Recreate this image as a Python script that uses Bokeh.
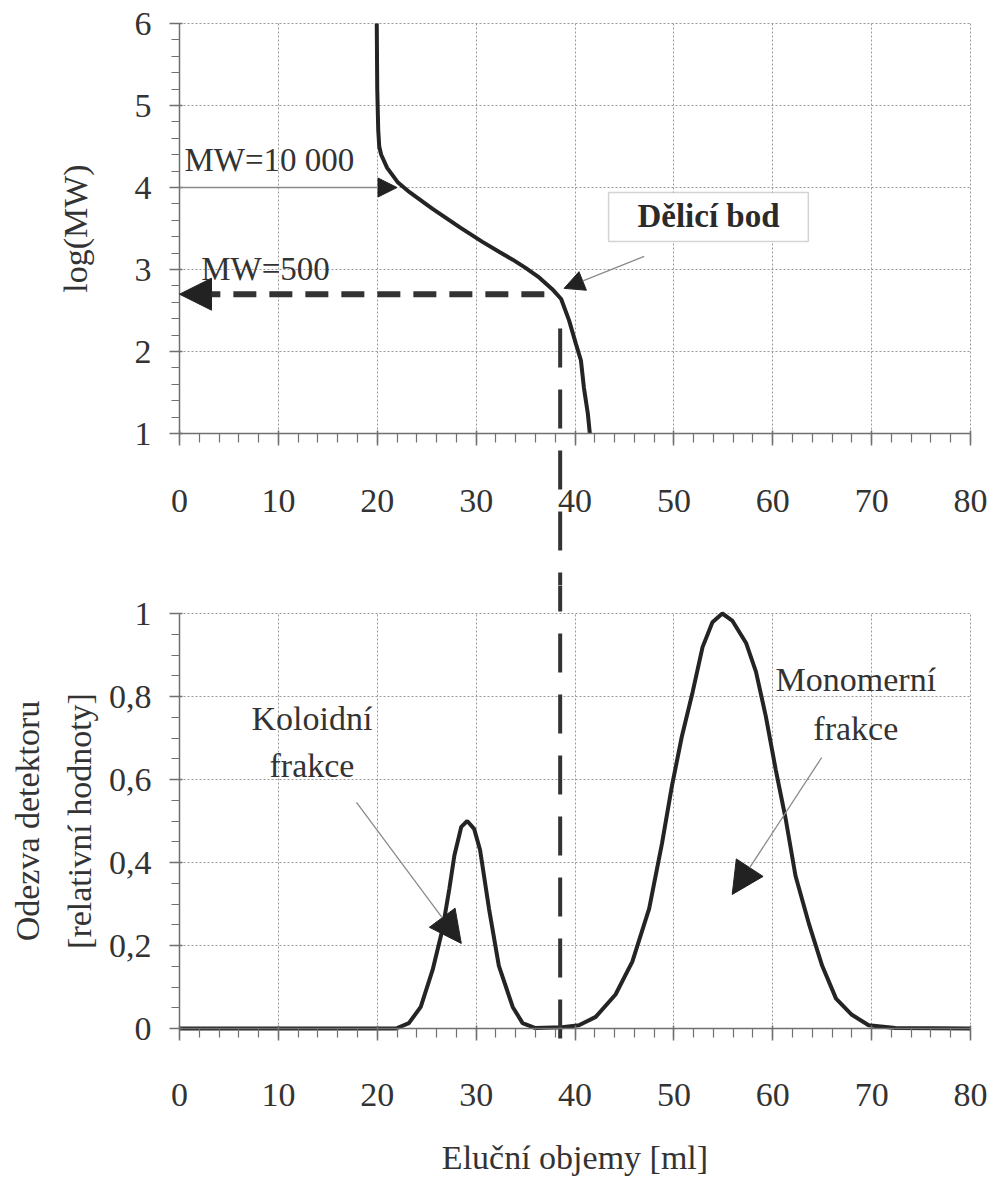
import math
from bokeh.plotting import figure
from bokeh.models import FixedTicker, Arrow, NormalHead, Label, BoxAnnotation
from bokeh.layouts import column
from bokeh.embed import file_html
from bokeh.resources import INLINE

# ---------------- data ----------------
# calibration curve: elution volume [ml] vs log(MW)
ve_cal = [19.95, 20.0, 20.1, 20.2, 20.4, 21.0, 22.1, 23.3, 25.6, 28.4, 30.6, 32.4,
          33.7, 35.0, 36.4, 37.7, 38.6, 39.4, 40.1, 40.6, 40.9, 41.3, 41.5]
logmw_cal = [6.0, 5.2, 4.7, 4.5, 4.4, 4.24, 4.06, 3.94, 3.74, 3.51, 3.34, 3.21,
             3.12, 3.02, 2.90, 2.76, 2.64, 2.38, 2.09, 1.89, 1.56, 1.24, 1.0]

# detector response (relative) vs elution volume [ml]
ve_det = [0, 21.9, 23.2, 24.4, 25.6, 26.6, 27.3, 27.8, 28.5, 29.1, 29.8, 30.4, 31.3,
          32.3, 33.7, 34.7, 36.0, 38.7, 40.4, 42.1, 44.1, 45.8, 47.5, 48.8, 49.8,
          50.8, 51.9, 52.9, 53.9, 54.9, 55.9, 57.3, 58.3, 59.3, 60.3, 61.3, 62.3,
          63.7, 65.0, 66.4, 68.0, 69.7, 72.4, 80]
resp_det = [0, 0, 0.013, 0.052, 0.141, 0.239, 0.338, 0.417, 0.486, 0.5, 0.481, 0.43,
            0.289, 0.151, 0.052, 0.013, 0.001, 0.003, 0.008, 0.028, 0.082, 0.161,
            0.289, 0.446, 0.584, 0.703, 0.811, 0.919, 0.979, 1.0, 0.983, 0.929,
            0.860, 0.752, 0.624, 0.506, 0.368, 0.249, 0.151, 0.072, 0.033, 0.008,
            0.001, 0]

x_ticks = [0, 10, 20, 30, 40, 50, 60, 70, 80]
logmw_ticks = [1, 2, 3, 4, 5, 6]
resp_ticks = [0, 0.2, 0.4, 0.6, 0.8, 1.0]
resp_tick_labels = ["0", "0,2", "0,4", "0,6", "0,8", "1"]

split_volume = 38.5          # "Dělicí bod" elution volume
mw_high = 10000
mw_low = 500
txt_mw_high = "MW=10 000"
txt_mw_low = "MW=500"
txt_split = "Dělicí bod"
txt_colloid = ["Koloidní", "frakce"]
txt_monomer = ["Monomerní", "frakce"]

FONT = "Liberation Serif"
TXT = "#333333"
CURVE = "#242424"
AXIS = "#707070"
GRID = "#999999"

# layout (pixels)
LEFT, RIGHT = 179, 20
FRAME_W = 791
WIDTH = LEFT + FRAME_W + RIGHT
px_x = FRAME_W / 80.0
X_RANGE = (-LEFT / px_x, 80 + RIGHT / px_x)
TOP_PX, Y1_PX, SPLIT_PX = 23, 433, 585      # top panel: y=6, y=1, panels' boundary
BOT0_PX, BOT_H = 1028, 150                  # bottom panel: y=0 position, space below
px_top = (Y1_PX - TOP_PX) / 5.0             # px per log unit
px_bot = BOT0_PX - 613                      # px per response unit (y=1 at 613)
top_low = 1 - (SPLIT_PX - Y1_PX) / px_top
top_high = 6 + TOP_PX / px_top
bot_high = (BOT0_PX - SPLIT_PX) / px_bot
bot_low = -BOT_H / px_bot


def style(p, yticks, yminor, xbounds, ybounds):
    p.outline_line_color = None
    p.background_fill_color = "white"
    for ax in (p.xaxis[0], p.yaxis[0]):
        ax.axis_line_color = AXIS
        ax.axis_line_width = 1.5
        ax.major_tick_line_color = AXIS
        ax.minor_tick_line_color = AXIS
        ax.major_tick_line_width = 1.5
        ax.minor_tick_line_width = 1.2
        ax.major_label_text_font = FONT
        ax.major_label_text_font_size = "34px"
        ax.major_label_text_color = TXT
        ax.axis_label_text_font = FONT
        ax.axis_label_text_font_size = "34px"
        ax.axis_label_text_font_style = "normal"
        ax.axis_label_text_color = TXT
    p.xaxis.ticker = FixedTicker(ticks=x_ticks, minor_ticks=[i * 2 for i in range(41)])
    p.yaxis.ticker = FixedTicker(ticks=yticks, minor_ticks=yminor)
    p.xaxis.bounds = xbounds
    p.yaxis.bounds = ybounds
    p.xaxis.fixed_location = ybounds[0]
    p.yaxis.fixed_location = xbounds[0]
    p.xaxis.major_tick_in = 3
    p.xaxis.major_tick_out = 12
    p.xaxis.minor_tick_in = 0
    p.xaxis.minor_tick_out = 9
    p.xaxis.major_label_standoff = 44
    p.yaxis.major_tick_in = 3
    p.yaxis.major_tick_out = 10
    p.yaxis.minor_tick_in = 0
    p.yaxis.minor_tick_out = 8
    p.yaxis.major_label_standoff = 18
    xg, yg = p.xgrid[0], p.ygrid[0]
    for g in (xg, yg):
        g.grid_line_color = GRID
        g.grid_line_dash = "2 2"
        g.grid_line_width = 1
    xg.bounds = xbounds
    yg.bounds = ybounds
    if hasattr(xg, "cross_bounds"):
        xg.cross_bounds = ybounds
        yg.cross_bounds = xbounds
    else:
        xg.visible = False
        yg.visible = False
        p.segment(x0=x_ticks, y0=[ybounds[0]] * len(x_ticks), x1=x_ticks,
                  y1=[ybounds[1]] * len(x_ticks), line_color=GRID, line_dash="2 2",
                  line_width=1, level="underlay")
        p.segment(x0=[xbounds[0]] * len(yticks), y0=yticks, x1=[xbounds[1]] * len(yticks),
                  y1=yticks, line_color=GRID, line_dash="2 2",
                  line_width=1, level="underlay")


# ---------------- top: calibration ----------------
# frames cover the whole canvases so that the dividing line can run through the
# tick-label area; the axes sit at fixed data locations inside the frames
p1 = figure(frame_width=WIDTH, frame_height=SPLIT_PX,
            x_range=X_RANGE, y_range=(top_low, top_high),
            min_border=0, output_backend="svg", toolbar_location=None)
style(p1, logmw_ticks, [1 + i * 0.2 for i in range(26)], (0, 80), (1, 6))
p1.yaxis.axis_label = "log(MW)"
p1.yaxis.axis_label_standoff = 38

p1.line(ve_cal, logmw_cal, line_color=CURVE, line_width=4)

lg_high = math.log10(mw_high)
lg_low = math.log10(mw_low)
p1.add_layout(Arrow(end=NormalHead(size=19, fill_color="#222", line_color="#222"),
                    x_start=0, y_start=lg_high, x_end=22.0, y_end=lg_high,
                    line_color="#8a8a8a", line_width=1.5))
p1.add_layout(Arrow(end=NormalHead(size=32, fill_color="#222", line_color="#222"),
                    x_start=36.9, y_start=lg_low, x_end=0, y_end=lg_low,
                    line_color="#333", line_width=6, line_dash="23 13"))
p1.add_layout(Label(x=0.5, y=4.33, text=txt_mw_high, text_font=FONT,
                    text_font_size="33px", text_color=TXT, text_baseline="alphabetic"))
p1.add_layout(Label(x=2.2, y=3.01, text=txt_mw_low, text_font=FONT,
                    text_font_size="33px", text_color=TXT, text_baseline="alphabetic"))
p1.add_layout(BoxAnnotation(left=43.4, right=63.6, bottom=3.34, top=3.94,
                            fill_color="white", fill_alpha=1, line_color="#707070",
                            line_width=1.5, level="annotation"))
p1.add_layout(Label(x=53.5, y=3.65, text=txt_split, text_font=FONT,
                    text_font_size="33px", text_font_style="bold", text_color="#2a2a2a",
                    text_align="center", text_baseline="middle"))
p1.add_layout(Arrow(end=NormalHead(size=20, fill_color="#222", line_color="#222"),
                    x_start=47.0, y_start=3.16, x_end=38.9, y_end=2.77,
                    line_color="#8a8a8a", line_width=1.3))
# dividing line, upper part (runs on through the gap between the panels)
p1.line([split_volume, split_volume], [2.28, top_low - 0.1],
        line_color="#333", line_width=4, line_dash="39 22")

# ---------------- bottom: detector response ----------------
p2 = figure(frame_width=WIDTH, frame_height=BOT0_PX - SPLIT_PX + BOT_H,
            x_range=X_RANGE, y_range=(bot_low, bot_high),
            min_border=0, output_backend="svg", toolbar_location=None)
style(p2, resp_ticks, [i * 0.05 for i in range(21)], (0, 80), (0, 1))
p2.yaxis.major_label_overrides = {t: l for t, l in zip(resp_ticks, resp_tick_labels)}
p2.yaxis.axis_label = "Odezva detektoru\n[relativní hodnoty]"
p2.yaxis.axis_label_text_line_height = 1.4
p2.yaxis.axis_label_standoff = 8
p2.xaxis.axis_label = "Eluční objemy [ml]"
p2.xaxis.axis_label_standoff = 30
p2.xaxis.major_label_standoff = 43

p2.line(ve_det, resp_det, line_color=CURVE, line_width=4)

# dividing line, lower part (dash phase continues from the upper part)
p2.line([split_volume, split_volume], [(BOT0_PX - 572) / px_bot, -0.036],
        line_color="#333", line_width=4, line_dash="39 22")

for txt, yy in zip(txt_colloid, [0.747, 0.634]):
    p2.add_layout(Label(x=13.4, y=yy, text=txt, text_font=FONT, text_font_size="34px",
                        text_color=TXT, text_align="center", text_baseline="middle"))
for txt, yy in zip(txt_monomer, [0.841, 0.723]):
    p2.add_layout(Label(x=68.4, y=yy, text=txt, text_font=FONT, text_font_size="34px",
                        text_color=TXT, text_align="center", text_baseline="middle"))
p2.add_layout(Arrow(end=NormalHead(size=32, fill_color="#222", line_color="#222"),
                    x_start=17.9, y_start=0.545, x_end=28.5, y_end=0.205,
                    line_color="#8a8a8a", line_width=1.3))
p2.add_layout(Arrow(end=NormalHead(size=32, fill_color="#222", line_color="#222"),
                    x_start=64.95, y_start=0.653, x_end=55.9, y_end=0.323,
                    line_color="#8a8a8a", line_width=1.3))

layout = column(p1, p2, spacing=0)
open("out.html", "w").write(file_html(layout, INLINE))
